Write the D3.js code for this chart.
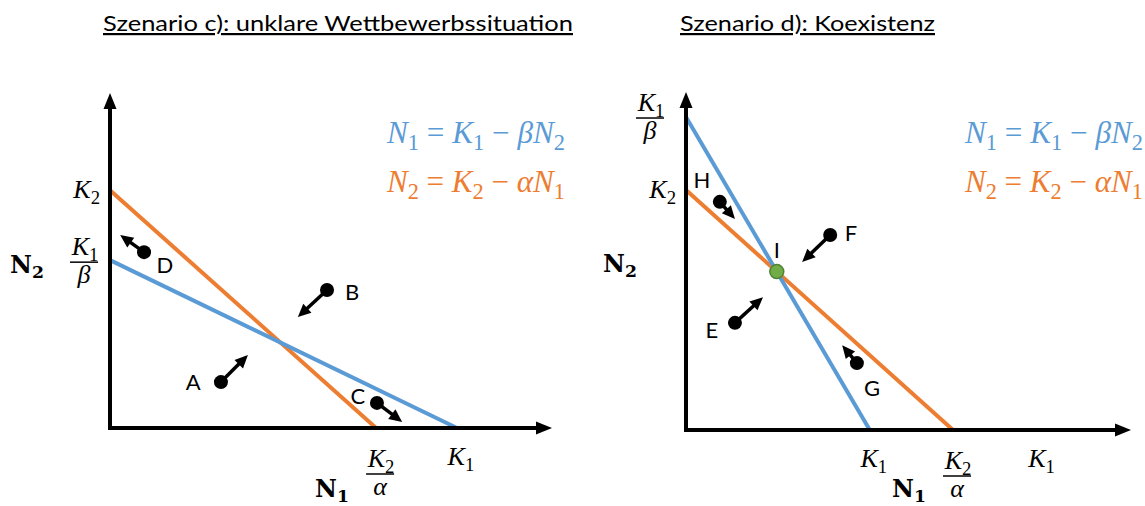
<!DOCTYPE html>
<html><head><meta charset="utf-8">
<script src="https://cdn.jsdelivr.net/npm/d3@7"></script>
<style>body{margin:0;background:#fff}svg{display:block}</style>
</head><body>
<svg id="c" width="1145" height="506"></svg>
<script>
// ---------- data (abstract units 0..100 on each axis) ----------
const titles = ["Szenario c): unklare Wettbewerbssituation", "Szenario d): Koexistenz"];
// blue isocline N1 = K1 - beta N2 : [N1 intercept (K1), N2 intercept (K1/beta)]
const blueIntercepts = [[78.5, 50.1], [41.3, 92.6]];
// orange isocline N2 = K2 - alpha N1 : [N1 intercept (K2/alpha), N2 intercept (K2)]
const orangeIntercepts = [[60.2, 71.0], [60.0, 71.0]];
// trajectory points: [label, x, y, tipX, tipY, labelX, labelY]
const pointsC = [
  ["A", 25.1, 13.7, 31.2, 21.8, 18.8, 13.7],
  ["B", 49.1, 41.2, 42.5, 33.1, 54.8, 40.6],
  ["C", 60.4, 7.5, 66.1, 1.8, 56.1, 9.6],
  ["D", 7.7, 52.5, 2.3, 57.6, 12.4, 48.7]
];
const pointsD = [
  ["H", 7.6, 67.5, 11.0, 62.4, 3.6, 74.0],
  ["F", 32.4, 57.7, 26.1, 49.7, 37.1, 58.3],
  ["E", 11.0, 31.7, 17.3, 39.3, 5.8, 29.6],
  ["G", 38.4, 19.8, 35.1, 25.1, 41.8, 12.4]
];
const equilibriumLabel = "I";
// tick labels: [value, kind] kind: 'K1','K2','K1/b','K2/a'
const xTicksC = [[60.2, "K2/a"], [78.5, "K1"]];
const yTicksC = [[71.0, "K2"], [50.1, "K1/b"]];
const xTicksD = [[41.3, "K1"], [60.0, "K2/a"], [79.0, "K1"]];
const yTicksD = [[92.6, "K1/b"], [71.0, "K2"]];

// ---------- layout ----------
const svg = d3.select("#c");
const BLUE = "#5B9BD5", ORANGE = "#ED7D31", GREEN = "#70AD47";
const MATH = "'DejaVu Serif', serif";
const TICKF = "'Liberation Serif', 'Times New Roman', serif";
const SANS = "Lato, 'Open Sans', sans-serif";

const panels = [
  {x0:110, y0:428, x1:552, y1:93, title:titles[0], tx:103, tw:470, blue:blueIntercepts[0], orange:orangeIntercepts[0],
   pts:pointsC, xt:xTicksC, yt:yTicksC, legX:387, n1x:315, n2x:10, n2y:266, eq:false},
  {x0:686, y0:430, x1:1131, y1:92, title:titles[1], tx:680, tw:255, blue:blueIntercepts[1], orange:orangeIntercepts[1],
   pts:pointsD, xt:xTicksD, yt:yTicksD, legX:965, n1x:892, n2x:603, n2y:265, eq:true}
];

function math(g, x, y, parts, size, color, anchor, fam) {
  const t = g.append("text").attr("x", x).attr("y", y).attr("font-family", fam || MATH)
    .attr("font-size", size).attr("fill", color).attr("text-anchor", anchor || "start");
  let sub = false;
  parts.forEach(([s, k]) => {
    const ts = t.append("tspan").text(s);
    if (k === "sub") { ts.attr("font-size", "0.72em").attr("font-style","normal"); if(!sub){ts.attr("dy", "0.3em"); sub=true;} }
    else {
      if (sub) { ts.attr("dy", "-0.216em"); sub=false; }
      ts.attr("font-style", k === "i" ? "italic" : "normal");
      if (k==="b") ts.attr("font-weight","bold");
    }
  });
  return t;
}
function fitWidth(t, target) {
  const s = +t.attr("font-size");
  const w = t.node().getComputedTextLength();
  t.attr("font-size", s * target / w);
  return t;
}
function kLabel(g, x, y, kind, size, anchor) {
  if (kind === "K1" || kind === "K2") {
    return math(g, x, y, [["K","i"],[kind[1],"sub"]], size, "#000", anchor, TICKF);
  }
  const num = kind === "K1/b" ? "1" : "2";
  const den = kind === "K1/b" ? "β" : "α";
  math(g, x + 1, y - 6, [["K","i"],[num,"sub"]], size, "#000", "middle", TICKF);
  g.append("line").attr("x1", x-14).attr("x2", x+14).attr("y1", y+1).attr("y2", y+1).attr("stroke","#000").attr("stroke-width",1.5);
  math(g, x, y + 22, [[den,"i"]], size, "#000", "middle", TICKF);
}
function arrowHead(g, x, y, ang, len, w) {
  const p = [[x, y],
    [x - len*Math.cos(ang) + w/2*Math.sin(ang), y - len*Math.sin(ang) - w/2*Math.cos(ang)],
    [x - len*Math.cos(ang) - w/2*Math.sin(ang), y - len*Math.sin(ang) + w/2*Math.cos(ang)]];
  g.append("path").attr("d", d3.line()(p) + "Z").attr("fill", "#000");
}

panels.forEach(P => {
  const g = svg.append("g");
  const xs = d3.scaleLinear().domain([0,100]).range([P.x0, P.x1]);
  const ys = d3.scaleLinear().domain([0,100]).range([P.y0, P.y1]);

  // title
  g.append("text").attr("x", P.tx).attr("y", 31).attr("font-family", SANS).attr("font-size", 22)
    .attr("text-decoration","underline").attr("fill","#000")
    .attr("textLength", P.tw).attr("lengthAdjust", "spacingAndGlyphs").text(P.title);

  // isoclines
  g.append("line").attr("x1", xs(0)).attr("y1", ys(P.orange[1])).attr("x2", xs(P.orange[0])).attr("y2", ys(0))
    .attr("stroke", ORANGE).attr("stroke-width", 4);
  g.append("line").attr("x1", xs(0)).attr("y1", ys(P.blue[1])).attr("x2", xs(P.blue[0])).attr("y2", ys(0))
    .attr("stroke", BLUE).attr("stroke-width", 4);

  // axes
  g.append("line").attr("x1", xs(0)).attr("y1", ys(0)+2).attr("x2", xs(0)).attr("y2", ys(100)+12).attr("stroke","#000").attr("stroke-width",4);
  arrowHead(g, xs(0), ys(100), -Math.PI/2, 16, 13);
  g.append("line").attr("x1", xs(0)-2).attr("y1", ys(0)).attr("x2", xs(100)-12).attr("y2", ys(0)).attr("stroke","#000").attr("stroke-width",4);
  arrowHead(g, xs(100), ys(0), 0, 16, 13);

  // equilibrium
  if (P.eq) {
    const a1 = P.blue[0], b1 = P.blue[1], a2 = P.orange[0], b2 = P.orange[1];
    const xi = (b1 - b2) / (b1/a1 - b2/a2);
    const yi = b2 * (1 - xi/a2);
    g.append("circle").attr("cx", xs(xi)).attr("cy", ys(yi)).attr("r", 7).attr("fill", GREEN).attr("stroke", "#548235").attr("stroke-width", 1.5);
    g.append("text").attr("x", xs(xi)).attr("y", ys(yi) - 14).attr("text-anchor","middle").attr("font-family", SANS).attr("font-size", 22).text(equilibriumLabel);
  }

  // trajectory points
  P.pts.forEach(([lab, x, y, tx, ty, lx, ly]) => {
    const X = xs(x), Y = ys(y), TX = xs(tx), TY = ys(ty);
    const ang = Math.atan2(TY - Y, TX - X);
    g.append("line").attr("x1", X).attr("y1", Y).attr("x2", TX - 10*Math.cos(ang)).attr("y2", TY - 10*Math.sin(ang))
      .attr("stroke","#000").attr("stroke-width",3.5);
    arrowHead(g, TX, TY, ang, 13, 12);
    g.append("circle").attr("cx", X).attr("cy", Y).attr("r", 7).attr("fill","#000");
    g.append("text").attr("x", xs(lx)).attr("y", ys(ly)).attr("dy","0.36em").attr("text-anchor","middle")
      .attr("font-family", SANS).attr("font-size", 22).attr("fill","#000").text(lab);
  });

  // ticks
  P.xt.forEach(([v, k]) => {
    if (k.includes("/")) kLabel(g, xs(v) + 4, ys(0) + 45, k, 26);
    else kLabel(g, xs(v) + 4, ys(0) + 37, k, 26, "middle");
  });
  P.yt.forEach(([v, k]) => {
    if (k.includes("/")) kLabel(g, P.x0 - 26 - (P.eq ? 10 : 0), ys(v) + (P.eq ? 0 : 1), k, 26);
    else kLabel(g, P.x0 - 10, ys(v) + 8, k, 26, "end");
  });

  // axis titles
  math(g, P.n1x, 497, [["N","b"],["1","sub"]], 24, "#000", "start").attr("font-weight","bold");
  math(g, P.n2x, P.n2y + 7, [["N","b"],["2","sub"]], 24, "#000", "start").attr("font-weight","bold");

  // legend
  const l1 = math(g, P.legX, 143, [["N","i"],["1","sub"],[" = ","r"],["K","i"],["1","sub"],[" −  ","r"],["β","i"],["N","i"],["2","sub"]], 27, BLUE, "start", TICKF);
  const l2 = math(g, P.legX, 192, [["N","i"],["2","sub"],[" = ","r"],["K","i"],["2","sub"],[" −  ","r"],["α","i"],["N","i"],["1","sub"]], 27, ORANGE, "start", TICKF);
  [l1, l2].forEach(l => fitWidth(l, 178));
});
</script>
</body></html>
